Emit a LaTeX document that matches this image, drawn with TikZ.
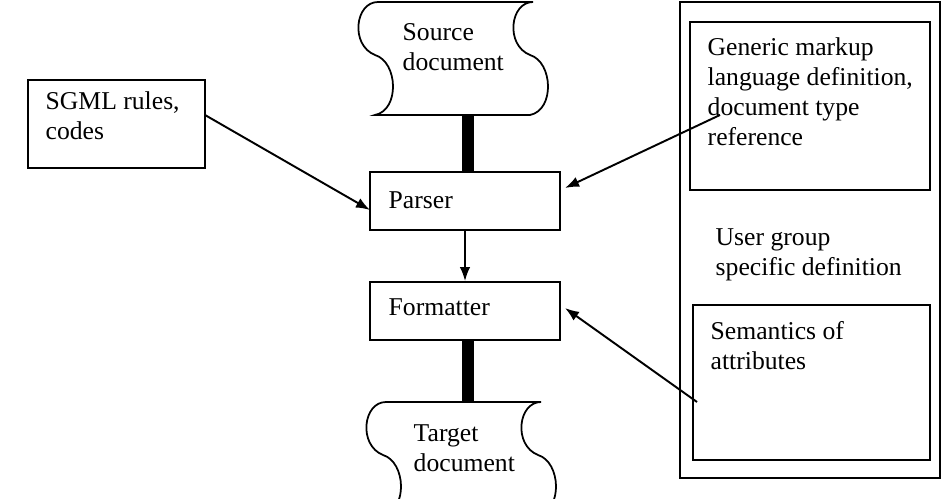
\documentclass[tikz,border=0pt]{standalone}
\usepackage{fontspec}
\setmainfont{Liberation Serif}
\usetikzlibrary{positioning,arrows.meta}
\begin{document}
\begin{tikzpicture}[x=0.02cm, y=-0.02cm, thick]
    \tikzstyle{box}=[draw, line width=1pt, rectangle, inner sep=0pt]
    \tikzstyle{txt}=[inner sep=0pt, anchor=north west, align=left, font=\fontsize{14.6pt}{17pt}\selectfont]
    \tikzstyle{marrs}=[line width=1.1pt, -{Latex[length=8pt,width=6pt]}]
    \tikzstyle{bar}=[line width=12pt*0.02/0.0352]

    \useasboundingbox (0,0) rectangle (952,499);

    % tape shaped documents
    \foreach \x/\y in {378/2, 386/402} {
        \draw[line width=1pt] (\x,\y) -- (\x+155,\y)
            .. controls (\x+132,\y) and (\x+127,\y+43) .. (\x+152,\y+53)
            .. controls (\x+175,\y+60) and (\x+177,\y+108) .. (\x+152,\y+113)
            -- (\x-3,\y+113)
            .. controls (\x+22,\y+108) and (\x+20,\y+60) .. (\x-3,\y+53)
            .. controls (\x-28,\y+43) and (\x-23,\y) .. (\x,\y);
    }
    \node[txt] (src) at (402,23) {Source\\document};
    \node[txt] (tgt) at (413,424) {Target\\document};

    % central boxes
    \node[box, minimum width=3.8cm, minimum height=1.16cm] (parser) at (465,201) {};
    \node[txt, anchor=west] at (388,200) {Parser};
    \node[box, minimum width=3.8cm, minimum height=1.16cm] (fmt) at (465,311) {};
    \node[txt, anchor=west] at (388,307) {Formatter};

    \coordinate (srcbot) at (468,115);
    \coordinate (tgttop) at (468,402);
    \draw[bar] (srcbot) -- (parser.north -| srcbot);
    \draw[bar] (fmt.south -| tgttop) -- (tgttop);
    \draw[marrs] (parser) -- (fmt);

    % left rules box
    \node[box, minimum width=3.54cm, minimum height=1.76cm] (sgml) at (116.5,124) {};
    \node[txt] at (45,91) {SGML rules,\\codes};

    % right definition boxes
    \node[box, minimum width=5.2cm, minimum height=9.52cm] (user) at (810,240) {};
    \node[box, minimum width=4.8cm, minimum height=3.36cm] (gen) at (810,106) {};
    \node[txt] at (707,37) {Generic markup\\language definition,\\document type\\reference};
    \node[txt] at (715,228) {User group\\specific definition};
    \node[box, minimum width=4.74cm, minimum height=3.1cm] (sem) at (811.5,382.5) {};
    \node[txt] at (710,321) {Semantics of\\attributes};

    % connectors
    \coordinate (sgmlout) at (205,115);
    \coordinate (parserin) at (370,210);
    \coordinate (genout) at (720,115);
    \coordinate (parserin2) at (565,188);
    \coordinate (semout) at (697,402);
    \coordinate (fmtin) at (565,308);
    \draw[marrs] (sgmlout) -- (parserin);
    \draw[marrs] (genout) -- (parserin2);
    \draw[marrs] (semout) -- (fmtin);
\end{tikzpicture}
\end{document}
